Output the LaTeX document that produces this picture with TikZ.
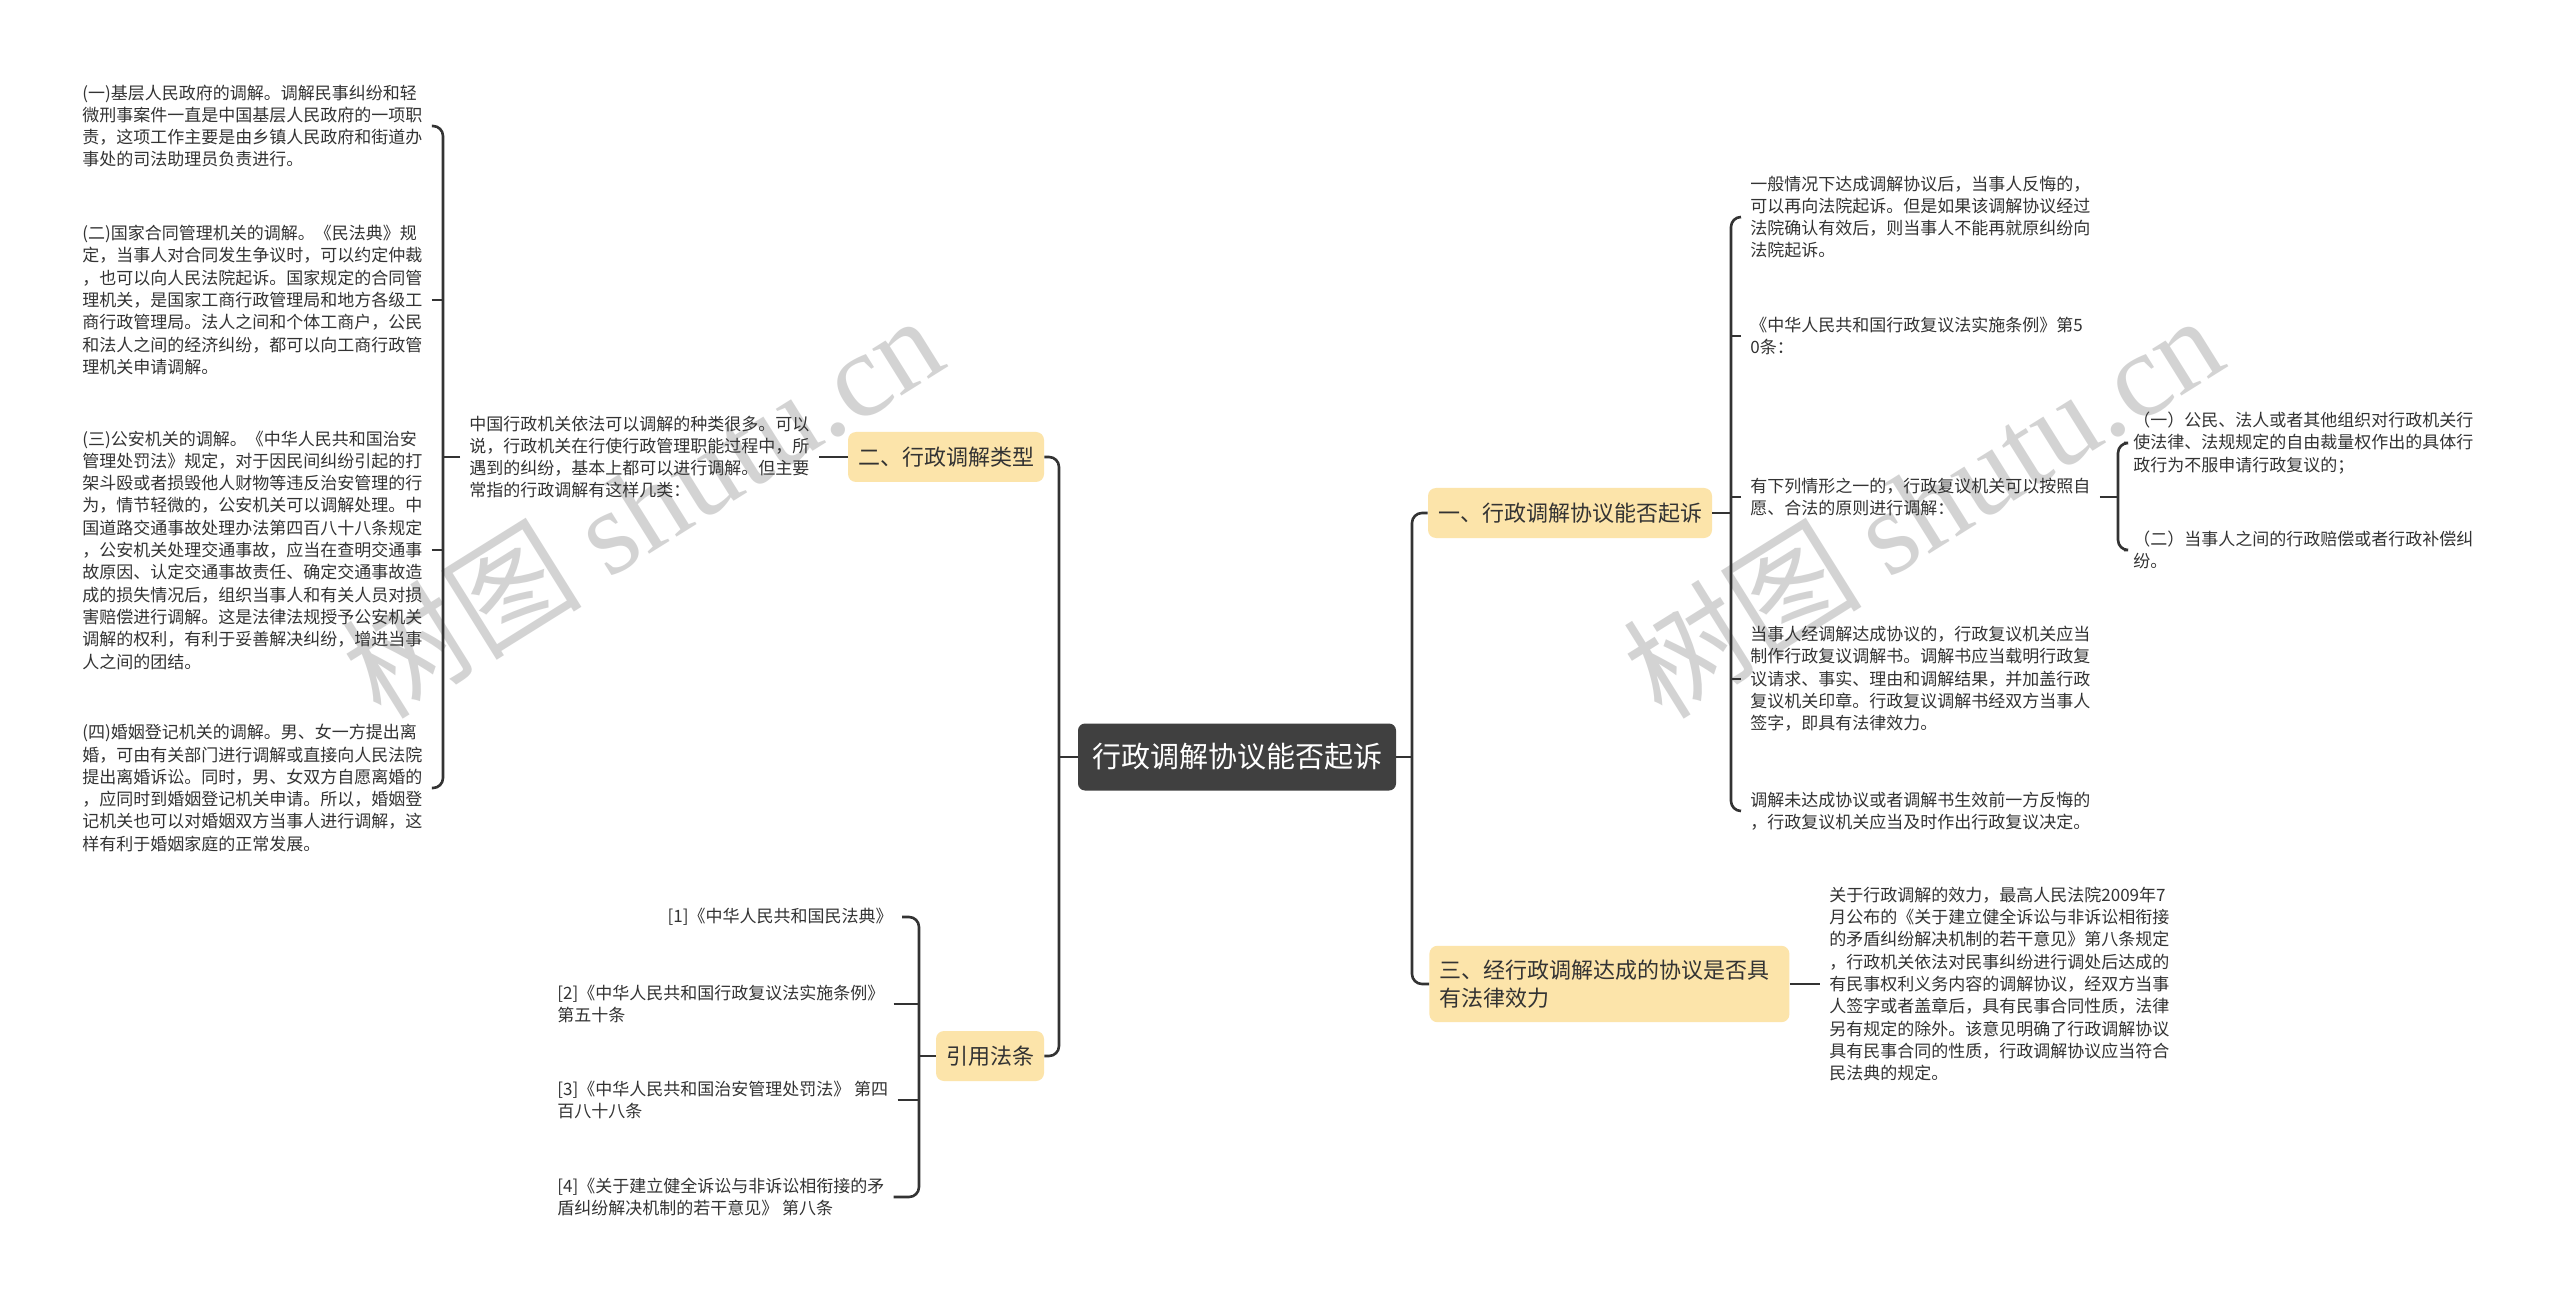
\documentclass[tikz,border=0pt]{standalone}
\usepackage{fontspec}
\setmainfont{Noto Sans CJK SC}
\newfontfamily\wmlatin{Liberation Serif}
\newfontfamily\wmcjk{Noto Sans CJK SC}
\definecolor{linec}{HTML}{333333}
\definecolor{textc}{HTML}{333333}
\definecolor{topicc}{HTML}{FCE4AA}
\definecolor{rootc}{HTML}{404040}
\definecolor{wmc}{HTML}{C9C9C9}
\begin{document}
\begin{tikzpicture}[x=0.5pt,y=-0.5pt,
  conn/.style={draw=linec,line width=1.3pt,rounded corners=5pt},
  leaf/.style={font=\fontsize{8.5}{11.15}\selectfont,text=textc,align=left,inner xsep=4.5pt,inner ysep=1pt},
  topic/.style={fill=topicc,rounded corners=4pt,font=\fontsize{11}{14}\selectfont,text=textc,inner xsep=5pt,minimum height=25pt},
  rootbox/.style={fill=rootc,rounded corners=3.5pt,font=\fontsize{14.5}{16}\selectfont,text=white,inner xsep=7pt,minimum height=33.5pt},
  wm/.style={text=wmc,rotate=32,font=\fontsize{60}{60}\selectfont,opacity=0.8}
]
\useasboundingbox (0,0) rectangle (2560,1299);
\fill[white] (0,0) rectangle (2560,1299);

% watermarks
\node[wm] (wm1) at (642,505) {{\wmcjk 树图} {\wmlatin shutu.cn}};
\node[wm] (wm2) at (1922,505) {{\wmcjk 树图} {\wmlatin shutu.cn}};

% bracket coordinates
\coordinate (bL) at (443,0);
\coordinate (bA) at (1059,0);
\coordinate (bY) at (919,0);
\coordinate (bX) at (1412,0);
\coordinate (b1) at (1731,0);
\coordinate (b3) at (2118,0);

% root
\node[rootbox] (root) at (1237,757) {行政调解协议能否起诉};

% left side
\node[topic] (er) at (946,457) {二、行政调解类型};
\node[leaf,anchor=west] (mid) at (460,457) {中国行政机关依法可以调解的种类很多。可以\\说，行政机关在行使行政管理职能过程中，所\\遇到的纠纷，基本上都可以进行调解。但主要\\常指的行政调解有这样几类：};

\node[leaf,anchor=west] (i1) at (73,126) {(一)基层人民政府的调解。调解民事纠纷和轻\\微刑事案件一直是中国基层人民政府的一项职\\责，这项工作主要是由乡镇人民政府和街道办\\事处的司法助理员负责进行。};
\node[leaf,anchor=west] (i2) at (73,300) {(二)国家合同管理机关的调解。《民法典》规\\定，当事人对合同发生争议时，可以约定仲裁\\，也可以向人民法院起诉。国家规定的合同管\\理机关，是国家工商行政管理局和地方各级工\\商行政管理局。法人之间和个体工商户，公民\\和法人之间的经济纠纷，都可以向工商行政管\\理机关申请调解。};
\node[leaf,anchor=west] (i3) at (73,550) {(三)公安机关的调解。《中华人民共和国治安\\管理处罚法》规定，对于因民间纠纷引起的打\\架斗殴或者损毁他人财物等违反治安管理的行\\为，情节轻微的，公安机关可以调解处理。中\\国道路交通事故处理办法第四百八十八条规定\\，公安机关处理交通事故，应当在查明交通事\\故原因、认定交通事故责任、确定交通事故造\\成的损失情况后，组织当事人和有关人员对损\\害赔偿进行调解。这是法律法规授予公安机关\\调解的权利，有利于妥善解决纠纷，增进当事\\人之间的团结。};
\node[leaf,anchor=west] (i4) at (73,788) {(四)婚姻登记机关的调解。男、女一方提出离\\婚，可由有关部门进行调解或直接向人民法院\\提出离婚诉讼。同时，男、女双方自愿离婚的\\，应同时到婚姻登记机关申请。所以，婚姻登\\记机关也可以对婚姻双方当事人进行调解，这\\样有利于婚姻家庭的正常发展。};

\node[topic] (yy) at (990,1056) {引用法条};
\node[leaf,anchor=east] (r1) at (902,917) {[1]《中华人民共和国民法典》};
\node[leaf,anchor=west] (r2) at (548,1004) {[2]《中华人民共和国行政复议法实施条例》\\第五十条};
\node[leaf,anchor=west] (r3) at (548,1100) {[3]《中华人民共和国治安管理处罚法》 第四\\百八十八条};
\node[leaf,anchor=west] (r4) at (548,1197) {[4]《关于建立健全诉讼与非诉讼相衔接的矛\\盾纠纷解决机制的若干意见》 第八条};

% right side
\node[topic] (yi) at (1570,513) {一、行政调解协议能否起诉};
\node[leaf,anchor=west] (c1) at (1741,217) {一般情况下达成调解协议后，当事人反悔的，\\可以再向法院起诉。但是如果该调解协议经过\\法院确认有效后，则当事人不能再就原纠纷向\\法院起诉。};
\node[leaf,anchor=west] (c2) at (1741,336) {《中华人民共和国行政复议法实施条例》第5\\0条：};
\node[leaf,anchor=west] (c3) at (1741,497) {有下列情形之一的，行政复议机关可以按照自\\愿、合法的原则进行调解：};
\node[leaf,anchor=west] (s1) at (2124,443) {（一）公民、法人或者其他组织对行政机关行\\使法律、法规规定的自由裁量权作出的具体行\\政行为不服申请行政复议的；};
\node[leaf,anchor=west] (s2) at (2124,550) {（二）当事人之间的行政赔偿或者行政补偿纠\\纷。};
\node[leaf,anchor=west] (c4) at (1741,679) {当事人经调解达成协议的，行政复议机关应当\\制作行政复议调解书。调解书应当载明行政复\\议请求、事实、理由和调解结果，并加盖行政\\复议机关印章。行政复议调解书经双方当事人\\签字，即具有法律效力。};
\node[leaf,anchor=west] (c5) at (1741,811) {调解未达成协议或者调解书生效前一方反悔的\\，行政复议机关应当及时作出行政复议决定。};

\node[topic,anchor=west,text width=170pt,align=left,inner ysep=7pt] (san) at (1429,984) {三、经行政调解达成的协议是否具\\有法律效力};
\node[leaf,anchor=west] (sl) at (1820,984) {关于行政调解的效力，最高人民法院2009年7\\月公布的《关于建立健全诉讼与非诉讼相衔接\\的矛盾纠纷解决机制的若干意见》第八条规定\\，行政机关依法对民事纠纷进行调处后达成的\\有民事权利义务内容的调解协议，经双方当事\\人签字或者盖章后，具有民事合同性质，法律\\另有规定的除外。该意见明确了行政调解协议\\具有民事合同的性质，行政调解协议应当符合\\民法典的规定。};

% connectors: root left
\draw[conn] (er.east) -- (er.east -| bA) -- (yy.east -| bA) -- (yy.east);
\draw[conn] (root.west) -- (root.west -| bA);
% er -> mid
\draw[conn] (er.west) -- (mid.east);
% mid -> items
\draw[conn] (i1.east) -- (i1.east -| bL) -- (i4.east -| bL) -- (i4.east);
\draw[conn] (i2.east) -- (i2.east -| bL);
\draw[conn] (i3.east) -- (i3.east -| bL);
\draw[conn] (mid.west) -- (mid.west -| bL);
% yy -> refs
\draw[conn] (r1.east) -- (r1.east -| bY) -- (r4.east -| bY) -- (r4.east);
\draw[conn] (r2.east) -- (r2.east -| bY);
\draw[conn] (r3.east) -- (r3.east -| bY);
\draw[conn] (yy.west) -- (yy.west -| bY);
% root right
\draw[conn] (yi.west) -- (yi.west -| bX) -- (san.west -| bX) -- (san.west);
\draw[conn] (root.east) -- (root.east -| bX);
% yi -> children
\draw[conn] (c1.west) -- (c1.west -| b1) -- (c5.west -| b1) -- (c5.west);
\draw[conn] (c2.west) -- (c2.west -| b1);
\draw[conn] (c3.west) -- (c3.west -| b1);
\draw[conn] (c4.west) -- (c4.west -| b1);
\draw[conn] (yi.east) -- (yi.east -| b1);
% c3 -> subs
\draw[conn] (s1.west) -- (s1.west -| b3) -- (s2.west -| b3) -- (s2.west);
\draw[conn] (c3.east) -- (c3.east -| b3);
% san -> leaf
\draw[conn] (san.east) -- (sl.west);
\end{tikzpicture}
\end{document}
